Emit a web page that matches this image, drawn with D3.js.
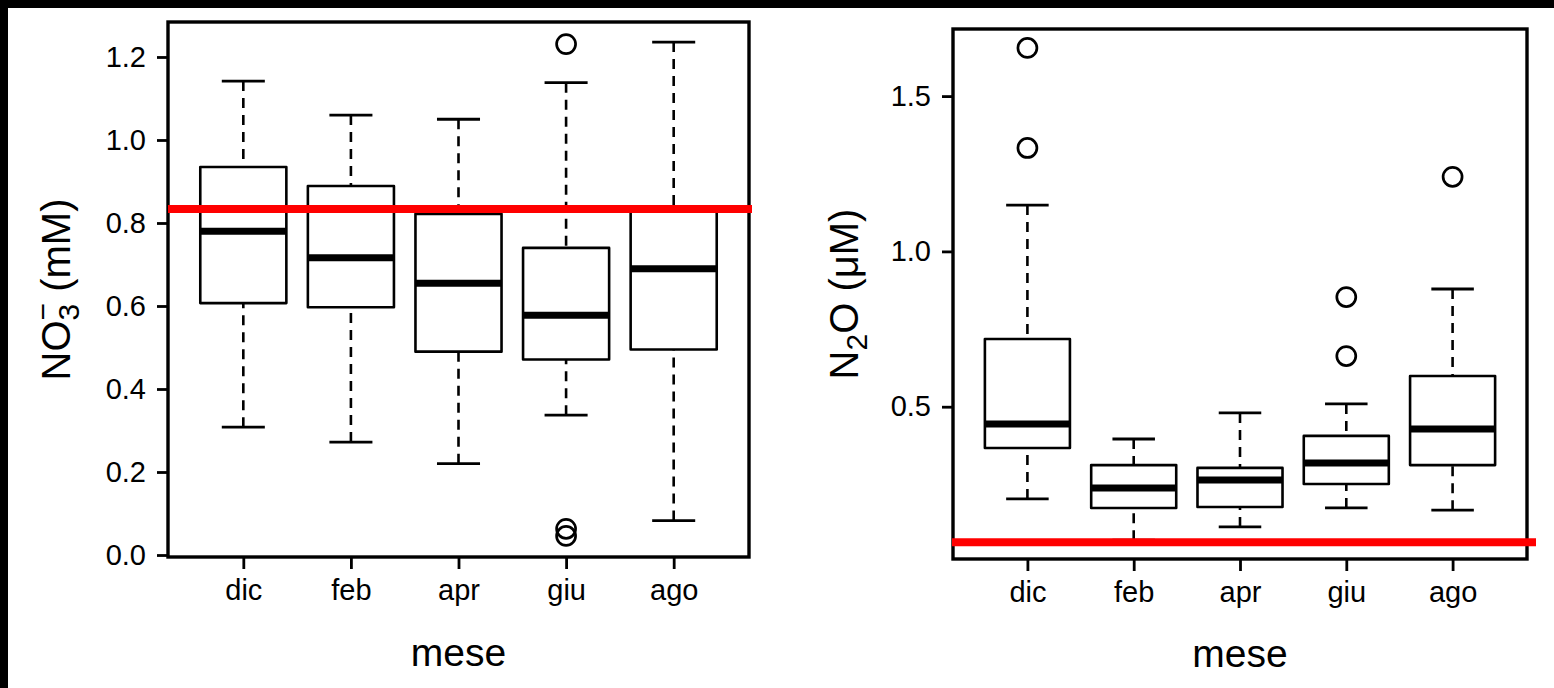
<!DOCTYPE html>
<html>
<head>
<meta charset="utf-8">
<script src="https://cdn.jsdelivr.net/npm/d3@7"></script>
<style>
  html, body { margin: 0; padding: 0; background: #000; }
  svg { display: block; }
  text { font-family: "Liberation Sans", Arial, sans-serif; fill: #000; }
</style>
</head>
<body>
<svg id="chart" width="1554" height="688"></svg>
<script>
// ---------- DATA ----------
const months = ["dic", "feb", "apr", "giu", "ago"];

// NO3- (mM) box statistics per month
const no3Low  = [0.308, 0.272, 0.220, 0.337, 0.083];
const no3Q1   = [0.607, 0.597, 0.490, 0.471, 0.495];
const no3Med  = [0.780, 0.716, 0.655, 0.578, 0.690];
const no3Q3   = [0.935, 0.889, 0.822, 0.740, 0.830];
const no3High = [1.142, 1.060, 1.050, 1.138, 1.236];
const no3Outliers = [["giu", 1.231], ["giu", 0.063], ["giu", 0.046]];
const no3Ticks = [0.0, 0.2, 0.4, 0.6, 0.8, 1.0, 1.2];
const no3Ref = 0.834;

// N2O (uM) box statistics per month
const n2oLow  = [0.203, 0.070, 0.113, 0.174, 0.167];
const n2oQ1   = [0.367, 0.174, 0.177, 0.251, 0.312];
const n2oMed  = [0.444, 0.238, 0.264, 0.319, 0.428];
const n2oQ3   = [0.718, 0.312, 0.303, 0.406, 0.599];
const n2oHigh = [1.149, 0.396, 0.480, 0.509, 0.879];
const n2oOutliers = [["dic", 1.655], ["dic", 1.333], ["giu", 0.853], ["giu", 0.663], ["ago", 1.240]];
const n2oTicks = [0.5, 1.0, 1.5];
const n2oRef = 0.064;

// ---------- LAYOUT ----------
const svg = d3.select("#chart");
svg.append("rect").attr("x", 8).attr("y", 8).attr("width", 1546).attr("height", 680).attr("fill", "#fff");

const panels = [
  { left: 168, right: 749, top: 22, bottom: 557, yDomain: [-0.0048, 1.2843],
    low: no3Low, q1: no3Q1, med: no3Med, q3: no3Q3, high: no3High, out: no3Outliers,
    ticks: no3Ticks, ref: no3Ref, refX: [0, 3], labelX: 70, yLabel: "no3", titleBase: 666 },
  { left: 953, right: 1527, top: 29, bottom: 559, yDomain: [0.0097, 1.716],
    low: n2oLow, q1: n2oQ1, med: n2oMed, q3: n2oQ3, high: n2oHigh, out: n2oOutliers,
    ticks: n2oTicks, ref: n2oRef, refX: [-1, 9], labelX: 858, yLabel: "n2o", titleBase: 667 }
];

panels.forEach(p => {
  const x = d3.scaleLinear().domain([0.3, 5.7]).range([p.left, p.right]);
  const y = d3.scaleLinear().domain(p.yDomain).range([p.bottom, p.top]);
  const g = svg.append("g");
  const boxW = x(1.4) - x(0.6);
  const capW = x(1.2) - x(0.8);

  months.forEach((m, i) => {
    const cx = x(i + 1);
    // whiskers (dashed), drawn from whisker end toward hinge
    g.append("line").attr("x1", cx).attr("x2", cx).attr("y1", y(p.high[i])).attr("y2", y(p.q3[i]))
      .attr("stroke", "#000").attr("stroke-width", 2.6).attr("stroke-dasharray", "10,7");
    g.append("line").attr("x1", cx).attr("x2", cx).attr("y1", y(p.low[i])).attr("y2", y(p.q1[i]))
      .attr("stroke", "#000").attr("stroke-width", 2.6).attr("stroke-dasharray", "10,7");
    // caps
    [p.high[i], p.low[i]].forEach(v => {
      g.append("line").attr("x1", cx - capW / 2).attr("x2", cx + capW / 2).attr("y1", y(v)).attr("y2", y(v))
        .attr("stroke", "#000").attr("stroke-width", 2.8);
    });
    // box
    g.append("rect").attr("x", cx - boxW / 2).attr("width", boxW)
      .attr("y", y(p.q3[i])).attr("height", y(p.q1[i]) - y(p.q3[i]))
      .attr("fill", "#fff").attr("stroke", "#000").attr("stroke-width", 2.6).attr("stroke-linejoin", "round");
    // median
    g.append("line").attr("x1", cx - boxW / 2).attr("x2", cx + boxW / 2).attr("y1", y(p.med[i])).attr("y2", y(p.med[i]))
      .attr("stroke", "#000").attr("stroke-width", 7);
  });

  // outliers
  g.selectAll("circle.out").data(p.out).enter().append("circle")
    .attr("cx", d => x(months.indexOf(d[0]) + 1)).attr("cy", d => y(d[1])).attr("r", 9.5)
    .attr("fill", "none").attr("stroke", "#000").attr("stroke-width", 2.7);

  // frame
  svg.append("rect").attr("x", p.left).attr("y", p.top).attr("width", p.right - p.left).attr("height", p.bottom - p.top)
    .attr("fill", "none").attr("stroke", "#000").attr("stroke-width", 3.4);

  // red reference line
  svg.append("line").attr("x1", p.left + p.refX[0]).attr("x2", p.right + p.refX[1])
    .attr("y1", y(p.ref)).attr("y2", y(p.ref)).attr("stroke", "#ff0000").attr("stroke-width", 8);

  // axes
  const ya = svg.append("g").attr("transform", `translate(${p.left},0)`)
    .call(d3.axisLeft(y).tickValues(p.ticks).tickFormat(d3.format(".1f")).tickSize(11).tickSizeOuter(0).tickPadding(11));
  ya.select(".domain").remove();
  ya.selectAll(".tick line").attr("stroke", "#000").attr("stroke-width", 2.8);
  ya.selectAll(".tick text").attr("font-size", 29).attr("font-family", "Liberation Sans, Arial, sans-serif").attr("fill", "#000");

  const xa = svg.append("g").attr("transform", `translate(0,${p.bottom})`)
    .call(d3.axisBottom(x).tickValues([1, 2, 3, 4, 5]).tickFormat(d => months[d - 1]).tickSize(12).tickSizeOuter(0).tickPadding(10));
  xa.select(".domain").remove();
  xa.selectAll(".tick line").attr("stroke", "#000").attr("stroke-width", 2.8);
  xa.selectAll(".tick text").attr("font-size", 29).attr("font-family", "Liberation Sans, Arial, sans-serif").attr("fill", "#000");

  // x title
  svg.append("text").attr("x", (p.left + p.right) / 2).attr("y", p.titleBase)
    .attr("text-anchor", "middle").attr("font-size", 39).text("mese");

  // y title
  const cy = (p.top + p.bottom) / 2;
  const t = svg.append("text").attr("transform", `translate(${p.labelX},${cy}) rotate(-90)`)
    .attr("text-anchor", "middle").attr("font-size", 40);
  if (p.yLabel === "no3") {
    t.append("tspan").text("NO");
    t.append("tspan").attr("font-size", 30).attr("dy", 9).text("3");
    t.append("tspan").attr("font-size", 30).attr("dx", "-0.556em").attr("dy", -26).text("\u2212");
    t.append("tspan").attr("dy", 17).text(" (mM)");
  } else {
    t.append("tspan").text("N");
    t.append("tspan").attr("font-size", 30).attr("dy", 9).text("2");
    t.append("tspan").attr("dy", -9).text("O (\u03bcM)");
  }
});
</script>
</body>
</html>
